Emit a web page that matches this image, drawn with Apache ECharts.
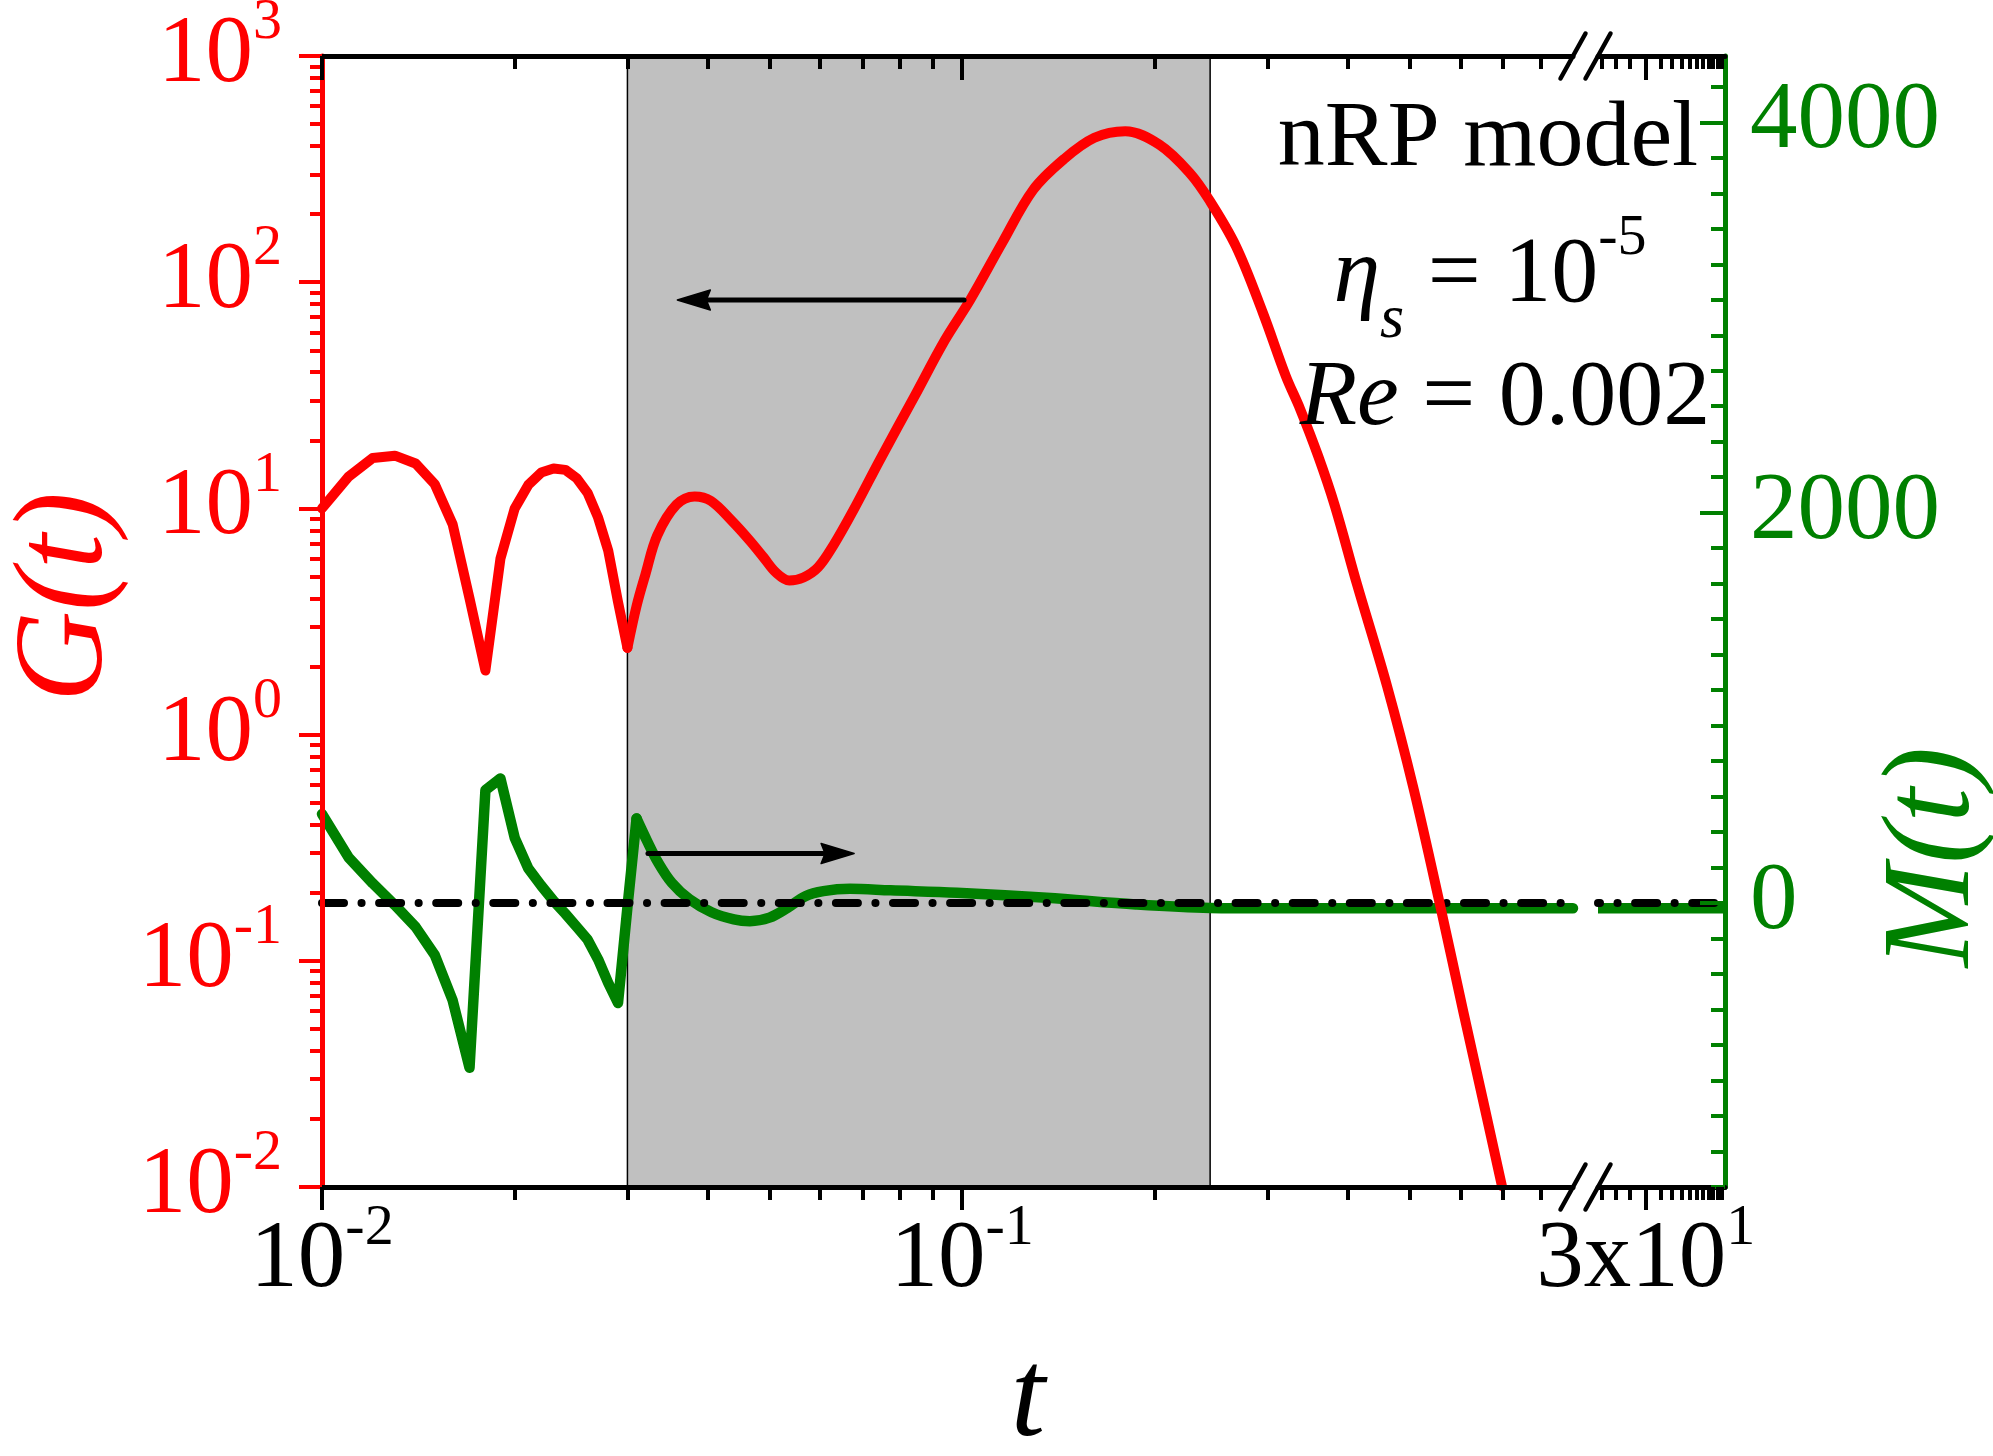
<!DOCTYPE html>
<html>
<head>
<meta charset="utf-8">
<script src="https://cdn.jsdelivr.net/npm/echarts@6/dist/echarts.min.js"></script>
<style>
  html, body { margin: 0; padding: 0; background: #ffffff; }
  #chart { width: 1993px; height: 1456px; }
</style>
</head>
<body>
<div id="chart"></div>
<script>
// ---------------------------------------------------------------------------
// Data: G(t) (left log axis) and M(t) (right linear axis) for the nRP model
// ---------------------------------------------------------------------------

// G(t), first oscillations (coarse time step)
const gEarlyT = [0.010, 0.011, 0.012, 0.013, 0.014, 0.015, 0.016, 0.017, 0.018, 0.019, 0.020,
                 0.021, 0.022, 0.023, 0.024, 0.025, 0.026, 0.027, 0.028, 0.029, 0.030];
const gEarlyG = [10.0, 13.8, 16.7, 17.1, 15.8, 12.8, 8.5, 4.0, 1.92, 6.0, 10.0,
                 12.7, 14.4, 15.0, 14.8, 13.6, 11.7, 9.1, 6.5, 3.86, 2.42];

// G(t), main pulse and decay
const gLateT = [0.030, 0.031, 0.032, 0.0334, 0.0358, 0.0382, 0.0405, 0.0437, 0.0466, 0.0489,
                0.0512, 0.0537, 0.0565, 0.0596, 0.0630, 0.0676, 0.0744, 0.0842, 0.0940, 0.1029,
                0.1156, 0.1291, 0.1442, 0.1609, 0.1798, 0.2034, 0.2270, 0.2432, 0.2678, 0.2951,
                0.3203, 0.3373, 0.360, 0.382, 0.414, 0.461, 0.507, 0.558, 0.607, 0.653, 0.697];
const gLateG = [2.42, 3.7, 5.1, 7.6, 10.4, 11.3, 10.8, 8.8, 7.2, 6.1,
                5.2, 4.8, 4.95, 5.5, 6.9, 9.8, 16.4, 31.2, 55.5, 83.4,
                150, 256, 350, 435, 465, 405, 303, 231, 144, 73,
                38.5, 27.5, 17, 10.3, 4.6, 1.64, 0.58, 0.176, 0.059, 0.0233, 0.0101];

// M(t), first oscillations (coarse time step)
const mEarlyT = [0.010, 0.011, 0.012, 0.013, 0.014, 0.015, 0.016, 0.017, 0.018, 0.019, 0.020,
                 0.021, 0.022, 0.023, 0.024, 0.025, 0.026, 0.027, 0.028, 0.029, 0.030, 0.031];
const mEarlyM = [456, 234, 101, -11, -122, -266, -499, -844, 578, 638, 334,
                 178, 89, 11, -55, -122, -188, -289, -410, -512, -22, 433];

// M(t), relaxation
const mLateT = [0.031, 0.0322, 0.0335, 0.0352, 0.0375, 0.0406, 0.0440, 0.0466, 0.0500, 0.0534,
                0.0569, 0.0607, 0.0668, 0.0773, 0.0982, 0.1355, 0.1868, 0.2439, 0.30, 0.40, 0.60, 0.90];
const mLateM = [433, 318, 208, 103, 19, -47, -84, -93, -75, -24,
                35, 61, 73, 65, 53, 27, -7, -25, -27, -27, -27, -27];

// M(t) level after the axis break
const mTail = -27;

// shaded time window
const bandT = [0.03, 0.244];

// annotation arrows: [tail, tip]
const arrowG = [[0.1007, 83.4], [0.0359, 83.4]];   // points to the G(t) axis
const arrowM = [[0.0323, 254], [0.0678, 254]];     // points to the M(t) axis

// ---------------------------------------------------------------------------
// Axes: broken time axis (two log segments), log G axis, linear M axis
// ---------------------------------------------------------------------------
const tRange1 = [0.01, 0.9];
const tRange2 = [12, 138];
const gRange = [0.01, 1000];
const mRange = [-1455, 4340];

const tMajor1 = [0.01, 0.1];
const tMajor1Labels = ['10^-2', '10^-1'];
const tMinor1 = [0.02, 0.03, 0.04, 0.05, 0.06, 0.07, 0.08, 0.09, 0.2, 0.3, 0.4, 0.5, 0.6, 0.7, 0.8];
const tMajor2 = [30];
const tMajor2Labels = ['3x10^1'];
const tMinor2 = [13, 17, 22, 40, 50, 60, 70, 80, 90, 100, 110, 120, 130];

const gMajor = [0.01, 0.1, 1, 10, 100, 1000];
const gMajorLabels = ['10^-2', '10^-1', '10^0', '10^1', '10^2', '10^3'];
const gMinorFactors = [2, 3, 4, 5, 6, 7, 8, 9];

const mMajor = [0, 2000, 4000];
const mMajorLabels = ['0', '2000', '4000'];
const mMinorPerMajor = 11;

const FONT = '"Liberation Serif", "Times New Roman", serif';
const RED = '#ff0000';
const GREEN = '#008000';
const BLACK = '#000000';
const BAND_GRAY = '#c0c0c0';

const AXIS_W = 5;
const TICK_W = 4;

// minor tick positions
const gMinor = [];
gMajor.slice(0, -1).forEach(d => gMinorFactors.forEach(k => gMinor.push(+(d * k).toPrecision(6))));
const mMinor = [];
const mStep = (mMajor[1] - mMajor[0]) / mMinorPerMajor;
for (let k = Math.ceil(mRange[0] / mStep); k * mStep <= mRange[1]; k++) {
  if (k % mMinorPerMajor !== 0) mMinor.push(k * mStep);
}

function pairs(xs, ys) { return xs.map((x, i) => [x, ys[i]]); }

function richFor(color) {
  return {
    b: { fontFamily: FONT, fontSize: 95, lineHeight: 95, color: color, verticalAlign: 'middle' },
    s: { fontFamily: FONT, fontSize: 58, lineHeight: 58, color: color, verticalAlign: 'middle', padding: [0, 0, 66, 0] }
  };
}

function labelFormatter(values, labels) {
  return function (v) {
    let i = -1;
    for (let k = 0; k < values.length; k++) {
      if (Math.abs(values[k] - v) <= Math.abs(values[k]) * 1e-6 + 1e-9) { i = k; break; }
    }
    if (i < 0) return '';
    const parts = labels[i].split('^');
    return parts.length > 1 ? '{b|' + parts[0] + '}{s|' + parts[1] + '}' : '{b|' + parts[0] + '}';
  };
}

function timeAxis(grid, range, pos, ticks, len, showLine, labels) {
  return {
    type: 'log', logBase: 10, gridIndex: grid, position: pos,
    min: range[0], max: range[1], z: 10,
    axisLine: { show: showLine, onZero: false, lineStyle: { color: BLACK, width: AXIS_W } },
    axisTick: { show: true, inside: pos === 'top', length: len, customValues: ticks,
                lineStyle: { color: BLACK, width: TICK_W } },
    axisLabel: labels
      ? { show: true, margin: 27, customValues: ticks, formatter: labelFormatter(ticks, labels), rich: richFor(BLACK) }
      : { show: false },
    splitLine: { show: false }, minorTick: { show: false }, minorSplitLine: { show: false }
  };
}

const option = {
  animation: false,
  backgroundColor: '#ffffff',
  textStyle: { fontFamily: FONT },
  grid: [
    { left: 322, top: 56, width: 1251, height: 1131, containLabel: false, outerBoundsMode: 'none' },
    { left: 1598, top: 56, width: 127, height: 1131, containLabel: false, outerBoundsMode: 'none' }
  ],
  xAxis: [
    timeAxis(0, tRange1, 'bottom', tMajor1, 23, true, tMajor1Labels),
    timeAxis(0, tRange1, 'bottom', tMinor1, 13, false, null),
    timeAxis(0, tRange1, 'top', tMajor1, 24, true, null),
    timeAxis(0, tRange1, 'top', tMinor1, 13, false, null),
    timeAxis(1, tRange2, 'bottom', tMajor2, 23, true, tMajor2Labels),
    timeAxis(1, tRange2, 'bottom', tMinor2, 13, false, null),
    timeAxis(1, tRange2, 'top', tMajor2, 24, true, null),
    timeAxis(1, tRange2, 'top', tMinor2, 13, false, null)
  ],
  yAxis: [
    { // 0: G(t), major ticks and labels
      type: 'log', logBase: 10, gridIndex: 0, position: 'left', min: gRange[0], max: gRange[1], z: 10,
      axisLine: { show: true, onZero: false, lineStyle: { color: RED, width: AXIS_W } },
      axisTick: { show: true, inside: false, length: 23, customValues: gMajor, lineStyle: { color: RED, width: TICK_W } },
      axisLabel: { show: true, margin: 40, customValues: gMajor, formatter: labelFormatter(gMajor, gMajorLabels), rich: richFor(RED) },
      splitLine: { show: false }, minorTick: { show: false }
    },
    { // 1: G(t), minor ticks
      type: 'log', logBase: 10, gridIndex: 0, position: 'left', min: gRange[0], max: gRange[1], z: 10,
      axisLine: { show: false, onZero: false },
      axisTick: { show: true, inside: false, length: 12, customValues: gMinor, lineStyle: { color: RED, width: TICK_W } },
      axisLabel: { show: false }, splitLine: { show: false }, minorTick: { show: false }
    },
    { // 2: M(t) scale for the first time segment
      type: 'value', gridIndex: 0, position: 'right', min: mRange[0], max: mRange[1], show: false,
      axisLine: { onZero: false }, splitLine: { show: false }
    },
    { // 3: M(t), major ticks and labels (drawn at the far right)
      type: 'value', gridIndex: 1, position: 'right', min: mRange[0], max: mRange[1], z: 10,
      axisLine: { show: true, onZero: false, lineStyle: { color: GREEN, width: AXIS_W } },
      axisTick: { show: true, inside: true, length: 25, customValues: mMajor, lineStyle: { color: GREEN, width: TICK_W } },
      axisLabel: { show: true, margin: 25, customValues: mMajor, formatter: labelFormatter(mMajor, mMajorLabels), rich: richFor(GREEN) },
      splitLine: { show: false }, minorTick: { show: false }
    },
    { // 4: M(t), minor ticks
      type: 'value', gridIndex: 1, position: 'right', min: mRange[0], max: mRange[1], z: 10,
      axisLine: { show: false, onZero: false },
      axisTick: { show: true, inside: true, length: 14, customValues: mMinor, lineStyle: { color: GREEN, width: TICK_W } },
      axisLabel: { show: false }, splitLine: { show: false }, minorTick: { show: false }
    }
  ],
  series: [
    { // 0: shaded window
      name: 'window', type: 'line', xAxisIndex: 0, yAxisIndex: 2, z: 1, silent: true,
      data: [[bandT[0], 0], [bandT[1], 0]], symbol: 'none',
      lineStyle: { width: 0, opacity: 0 }, emphasis: { disabled: true },
      markArea: {
        silent: true, label: { show: false },
        itemStyle: { color: BAND_GRAY, borderColor: BLACK, borderWidth: 1.5, opacity: 1 },
        data: [[{ xAxis: bandT[0] }, { xAxis: bandT[1] }]]
      }
    },
    { // 1
      name: 'M(t)', type: 'line', xAxisIndex: 0, yAxisIndex: 2, z: 3, silent: true,
      data: pairs(mEarlyT, mEarlyM), symbol: 'none', emphasis: { disabled: true },
      lineStyle: { color: GREEN, width: 10.5, join: 'round', cap: 'round' }
    },
    { // 2
      name: 'M(t)', type: 'line', xAxisIndex: 0, yAxisIndex: 2, z: 3, silent: true, smooth: 0.35,
      data: pairs(mLateT, mLateM), symbol: 'none', emphasis: { disabled: true },
      lineStyle: { color: GREEN, width: 10.5, join: 'round', cap: 'round' }
    },
    { // 3
      name: 'M(t)', type: 'line', xAxisIndex: 4, yAxisIndex: 3, z: 3, silent: true,
      data: [[tRange2[0], mTail], [tRange2[1], mTail]], symbol: 'none', emphasis: { disabled: true },
      lineStyle: { color: GREEN, width: 10.5 }
    },
    { // 4: M = 0 reference
      name: 'M = 0', type: 'line', xAxisIndex: 0, yAxisIndex: 2, z: 4, silent: true,
      data: [[tRange1[0], 0], [tRange1[1], 0]], symbol: 'none', emphasis: { disabled: true },
      lineStyle: { color: BLACK, width: 8, type: [22, 17.5, 0.1, 17.5], cap: 'round' }
    },
    { // 5
      name: 'M = 0', type: 'line', xAxisIndex: 4, yAxisIndex: 3, z: 4, silent: true,
      data: [[tRange2[0], 0], [tRange2[1], 0]], symbol: 'none', emphasis: { disabled: true },
      lineStyle: { color: BLACK, width: 8, type: [22, 17.5, 0.1, 17.5], cap: 'round', dashOffset: 20 }
    },
    { // 6
      name: 'G(t)', type: 'line', xAxisIndex: 0, yAxisIndex: 0, z: 5, silent: true,
      data: pairs(gEarlyT, gEarlyG), symbol: 'none', emphasis: { disabled: true },
      lineStyle: { color: RED, width: 10, join: 'round', cap: 'round' }
    },
    { // 7
      name: 'G(t)', type: 'line', xAxisIndex: 0, yAxisIndex: 0, z: 5, silent: true, smooth: 0.35,
      data: pairs(gLateT, gLateG), symbol: 'none', emphasis: { disabled: true },
      lineStyle: { color: RED, width: 10, join: 'round', cap: 'round' }
    }
  ]
};

const chart = echarts.init(document.getElementById('chart'), null, { renderer: 'canvas', width: 1993, height: 1456 });
chart.setOption(option);

// ---------------------------------------------------------------------------
// Decorations placed through the axes: arrows and axis-break marks
// ---------------------------------------------------------------------------
function arrowShapes(p0, p1, color) {
  const dx = p1[0] - p0[0], dy = p1[1] - p0[1];
  const L = Math.hypot(dx, dy), ux = dx / L, uy = dy / L;
  const headLen = 33, headHalf = 10;
  const bx = p1[0] - ux * headLen, by = p1[1] - uy * headLen;
  return [
    { type: 'line', z: 50, silent: true,
      shape: { x1: p0[0], y1: p0[1], x2: bx + ux * 2, y2: by + uy * 2 },
      style: { stroke: color, lineWidth: 5, lineCap: 'round' } },
    { type: 'polygon', z: 50, silent: true,
      shape: { points: [[p1[0], p1[1]], [bx - uy * headHalf, by + ux * headHalf], [bx + ux * 4, by + uy * 4], [bx + uy * headHalf, by - ux * headHalf]] },
      style: { fill: color, stroke: color, lineWidth: 1.5, lineJoin: 'round' } }
  ];
}

function breakMarks(p) {
  const out = [];
  [[p[0][0], p[0][1]], [p[1][0], p[1][1]]].forEach(([x, y]) => {
    out.push({ type: 'line', z: 60, silent: true,
      shape: { x1: x - 12.5, y1: y + 22.5, x2: x + 12.5, y2: y - 22.5 },
      style: { stroke: BLACK, lineWidth: 4.5, lineCap: 'round' } });
  });
  return out;
}

const gA = arrowG.map(p => chart.convertToPixel({ seriesIndex: 6 }, p));
const mA = arrowM.map(p => chart.convertToPixel({ seriesIndex: 1 }, p));
const seg1BottomEnd = chart.convertToPixel({ seriesIndex: 6 }, [tRange1[1], gRange[0]]);
const seg1TopEnd = chart.convertToPixel({ seriesIndex: 6 }, [tRange1[1], gRange[1]]);
const seg2BottomStart = chart.convertToPixel({ seriesIndex: 3 }, [tRange2[0], mRange[0]]);
const seg2TopStart = chart.convertToPixel({ seriesIndex: 3 }, [tRange2[0], mRange[1]]);

const textStyleBase = { fontFamily: FONT, fill: BLACK, align: 'center', verticalAlign: 'middle' };

const graphics = []
  .concat(arrowShapes(gA[0], gA[1], BLACK))
  .concat(arrowShapes(mA[0], mA[1], BLACK))
  .concat(breakMarks([seg1BottomEnd, seg2BottomStart]))
  .concat(breakMarks([seg1TopEnd, seg2TopStart]))
  .concat([
    { type: 'text', x: 1488, y: 140, z: 100, silent: true,
      style: Object.assign({}, textStyleBase, { text: 'nRP model', fontSize: 94 }) },
    { type: 'text', x: 1490, y: 276, z: 100, silent: true,
      style: Object.assign({}, textStyleBase, {
        text: '{i|η}{sub|s}{n| = 10}{sup|-5}', fontSize: 94,
        rich: {
          i: { fontFamily: FONT, fontSize: 94, lineHeight: 94, fontStyle: 'italic', fill: BLACK, verticalAlign: 'middle' },
          sub: { fontFamily: FONT, fontSize: 62, lineHeight: 62, fontStyle: 'italic', fill: BLACK, verticalAlign: 'middle', padding: [90, 0, 0, 0] },
          n: { fontFamily: FONT, fontSize: 94, lineHeight: 94, fill: BLACK, verticalAlign: 'middle' },
          sup: { fontFamily: FONT, fontSize: 58, lineHeight: 58, fill: BLACK, verticalAlign: 'middle', padding: [0, 0, 74, 0] }
        }
      }) },
    { type: 'text', x: 1505, y: 399, z: 100, silent: true,
      style: Object.assign({}, textStyleBase, {
        text: '{i|Re}{n| = 0.002}', fontSize: 94,
        rich: {
          i: { fontFamily: FONT, fontSize: 94, lineHeight: 94, fontStyle: 'italic', fill: BLACK },
          n: { fontFamily: FONT, fontSize: 94, lineHeight: 94, fill: BLACK }
        }
      }) },
    // axis titles
    { type: 'text', x: 68, y: 597, rotation: Math.PI / 2, z: 100, silent: true,
      style: { text: 'G(t)', fontFamily: FONT, fontSize: 126, fontStyle: 'italic', fill: RED, align: 'center', verticalAlign: 'middle' } },
    { type: 'text', x: 1935, y: 857, rotation: Math.PI / 2, z: 100, silent: true,
      style: { text: 'M(t)', fontFamily: FONT, fontSize: 124, fontStyle: 'italic', fill: GREEN, align: 'center', verticalAlign: 'middle' } },
    { type: 'text', x: 1028, y: 1402, z: 100, silent: true,
      style: { text: 't', fontFamily: FONT, fontSize: 124, fontStyle: 'italic', fill: BLACK, align: 'center', verticalAlign: 'middle' } }
  ]);

chart.setOption({ graphic: graphics });
</script>
</body>
</html>
